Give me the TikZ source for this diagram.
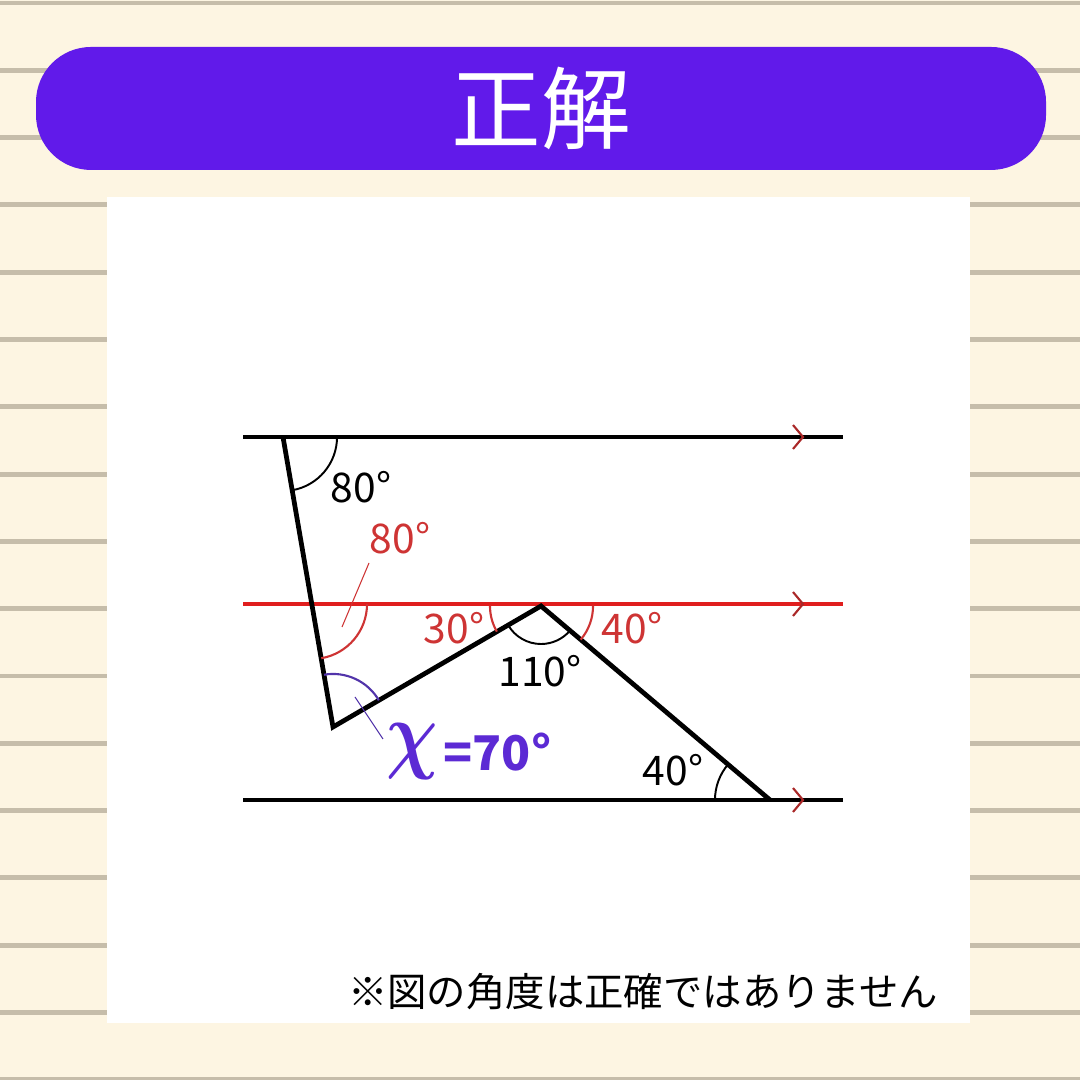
\documentclass[tikz,border=0pt]{standalone}
\usepackage{fontspec}
\usepackage{amsmath}
\setmainfont{Noto Sans CJK JP}
\usetikzlibrary{angles}
\definecolor{paper}{RGB}{253,245,226}
\definecolor{rulecol}{RGB}{198,189,170}
\definecolor{banner}{RGB}{97,26,234}
\definecolor{ansred}{RGB}{224,30,30}
\definecolor{arcred}{RGB}{206,52,52}
\definecolor{chevred}{RGB}{170,40,40}
\definecolor{ansx}{RGB}{92,42,212}
\definecolor{arcx}{RGB}{82,52,170}
\tikzset{blk/.style={line width=1.35pt,draw=black},
 parred/.style={line width=1.3pt,draw=ansred},
 chev/.style={line width=0.6pt,draw=chevred},
 arcb/.style={draw=black,line width=0.55pt},
 arcr/.style={draw=arcred,line width=0.6pt},
 arcp/.style={draw=arcx,line width=0.6pt},
 lbl/.style={inner sep=0pt,font=\fontsize{11.6}{13}\selectfont},
 lead/.style={line width=0.3pt},
 }

\begin{document}
\begin{tikzpicture}[x=0.01cm,y=0.01cm]
        % paper
        \fill[paper] (0,0) rectangle (1080,1080);
        \useasboundingbox (0,0) rectangle (1080,1080);
        \foreach \k in {0,...,16}
            \draw[rulecol,line width=1.4pt] (0,{1077-67.3*\k}) -- (1080,{1077-67.3*\k});
        \fill[banner,rounded corners=0.55cm] (36,910) rectangle (1046,1033);
        \node[white,font=\fontsize{25.5}{28}\selectfont] (title) at (541,972) {正解};
        \fill[white] (107,57) rectangle (970,883);
        % parallel lines
        \coordinate (L1) at (243,643);
        \coordinate (R1) at (843,643);
        \coordinate (L2) at (243,476);
        \coordinate (R2) at (843,476);
        \coordinate (L3) at (243,280);
        \coordinate (R3) at (843,280);
        \coordinate (A) at (283,643);
        \coordinate (B) at (333,353);
        \coordinate (C) at (541,474);
        \coordinate (D) at (770,280);
        \coordinate (P) at (312,476);
        \draw[blk] (L1) -- (R1);
        \draw[parred] (L2) -- (R2);
        \draw[blk] (L3) -- (R3);
        \foreach \y in {643,476,280}
            \draw[chev] (793,\y+12) -- (803,\y) -- (793,\y-12);
        \draw[blk] (A) -- (B) -- (C) -- (D);
        % angles
        \pic[arcb,angle radius=0.54cm] {angle=B--A--R1};
        \pic[arcr,angle radius=0.55cm] {angle=B--P--R2};
        \pic[arcr,angle radius=0.51cm] {angle=L2--C--B};
        \pic[arcr,angle radius=0.52cm] {angle=D--C--R2};
        \pic[arcb,angle radius=0.38cm] {angle=B--C--D};
        \pic[arcb,angle radius=0.55cm] {angle=C--D--L3};
        \pic[arcp,angle radius=0.53cm] {angle=C--B--A};
        % labels
        \node[lbl] (a80) at (361,593) {80°};
        \node[lbl,arcred] (p80) at (400,542) {80°};
        \node[lbl,arcred] (c30) at (454,452) {30°};
        \node[lbl] (c110) at (540,409) {110°};
        \node[lbl,arcred] (c40) at (632,452) {40°};
        \node[lbl] (d40) at (673,310) {40°};
        \coordinate (p80a) at (342,453);
        \coordinate (p80b) at (369,517);
        \draw[arcred,lead] (p80a) -- (p80b);
        \coordinate (xa) at (355,383);
        \coordinate (xb) at (383,341);
        \draw[arcx,lead] (xa) -- (xb);
        \node[ansx,inner sep=0pt,font=\fontsize{25}{30}\selectfont] (xsym) at (412,328) {\scalebox{0.82}[1]{$\boldsymbol{\chi}$}};
        \node[ansx,inner sep=0pt,anchor=west,font=\fontsize{13.6}{16}\bfseries] (xval) at (443,328) {=70°};
        \node[font=\fontsize{11.2}{13}\selectfont] (note) at (643,88) {※図の角度は正確ではありません};
    \end{tikzpicture}
\end{document}
